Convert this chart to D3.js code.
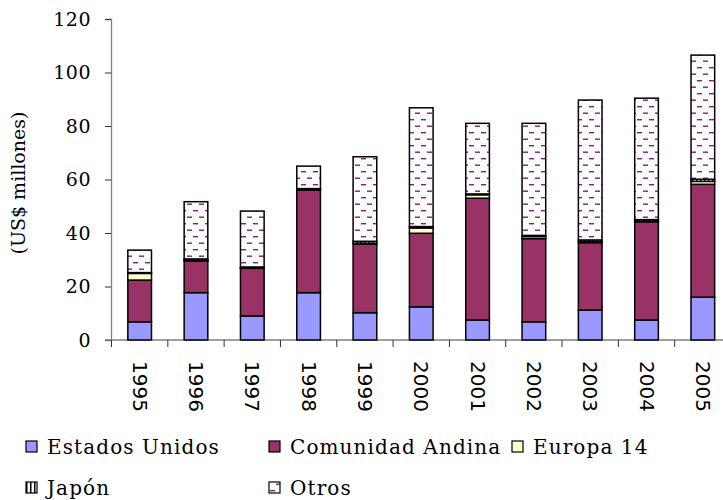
<!DOCTYPE html>
<html>
<head>
<meta charset="utf-8">
<script src="https://cdn.jsdelivr.net/npm/d3@7"></script>
<style>
  body { margin: 0; background: #fff; }
  svg { display: block; }
</style>
</head>
<body>
<div id="chart"></div>
<script>
(function () {

  // data (US$ millones)
  var years = ["1995", "1996", "1997", "1998", "1999", "2000", "2001", "2002", "2003", "2004", "2005"],
    seriesNames = ["Estados Unidos", "Comunidad Andina", "Europa 14", "Japón", "Otros"],
    estadosUnidos = [6.8, 17.7, 9.0, 17.7, 10.2, 12.4, 7.5, 6.8, 11.2, 7.5, 16.0],
    comunidadAndina = [15.6, 11.8, 17.8, 38.4, 25.7, 27.5, 45.5, 31.1, 25.2, 36.7, 42.2],
    europa14 = [2.5, 0.2, 0.2, 0.2, 0.3, 2.0, 1.3, 0.8, 0.3, 0.2, 1.1],
    japon = [0.3, 0.6, 0.3, 0.3, 0.7, 0.5, 0.3, 0.4, 0.7, 0.6, 0.8],
    otros = [8.4, 21.4, 20.9, 8.4, 31.6, 44.4, 26.4, 41.9, 52.3, 45.4, 46.4],
    yTicks = [0, 20, 40, 60, 80, 100, 120];

  var w = 723,
    h = 500,
    svg, x, y;

  var seriesValues = [estadosUnidos, comunidadAndina, europa14, japon, otros];
  var fills = ["#9999ff", "#993366", "#ffffcc", "url(#japonPat)", "url(#otrosPat)"];

  function makeChart() {
    createSvg();
    createPatterns();
    getScales();
    drawAxes();
    drawBars();
    drawLegend();
  }

  function createSvg() {
    svg = d3.select("#chart")
      .append("svg")
      .attr("width", w)
      .attr("height", h);
  }

  // hatch fills used by Japón and Otros
  function createPatterns() {
    var defs = svg.append("defs");

    var jp = defs.append("pattern")
      .attr("id", "japonPat")
      .attr("patternUnits", "userSpaceOnUse")
      .attr("width", 4).attr("height", 4);
    jp.append("rect").attr("width", 4).attr("height", 4).attr("fill", "#fff");
    jp.append("rect").attr("x", 0).attr("width", 1.5).attr("height", 4).attr("fill", "#000");

    var ot = defs.append("pattern")
      .attr("id", "otrosPat")
      .attr("patternUnits", "userSpaceOnUse")
      .attr("width", 12).attr("height", 13);
    ot.append("rect").attr("width", 12).attr("height", 13).attr("fill", "#fff");
    [[1, 2], [7, 8.5]].forEach(function (p) {
      ot.append("rect")
        .attr("x", p[0]).attr("y", p[1])
        .attr("width", 5).attr("height", 1.4)
        .attr("fill", "#80207a");
    });
  }

  function getScales() {
    x = d3.scaleBand()
      .domain(years)
      .range([111.5, 731])
      .paddingInner(0.58)
      .paddingOuter(0.29);

    y = d3.scaleLinear()
      .domain([0, 120])
      .range([340, 19]);
  }

  function drawAxes() {
    var yAxis = svg.append("g")
      .attr("transform", "translate(111,0)")
      .call(d3.axisLeft(y).tickValues(yTicks).tickSize(6).tickPadding(14));
    yAxis.select(".domain").attr("stroke", "#808080").attr("stroke-width", 1.3);
    yAxis.selectAll(".tick line").attr("stroke", "#333");
    yAxis.selectAll(".tick text")
      .attr("font-family", "'DejaVu Serif', serif")
      .attr("font-size", "19px")
      .attr("letter-spacing", "0.5px")
      .attr("fill", "#000");

    // category axis: line plus tick marks between the categories
    svg.append("line")
      .attr("x1", 105).attr("x2", w)
      .attr("y1", y(0)).attr("y2", y(0))
      .attr("stroke", "#808080").attr("stroke-width", 1.3);

    var step = x.step();
    svg.selectAll(".xtick")
      .data(years)
      .enter().append("line")
      .attr("class", "xtick")
      .attr("x1", function (d) { return x(d) + x.bandwidth() / 2 - step / 2; })
      .attr("x2", function (d) { return x(d) + x.bandwidth() / 2 - step / 2; })
      .attr("y1", y(0)).attr("y2", y(0) + 7)
      .attr("stroke", "#333");

    svg.selectAll(".xlabel")
      .data(years)
      .enter().append("text")
      .attr("class", "xlabel")
      .attr("transform", function (d) {
        return "translate(" + (x(d) + x.bandwidth() / 2) + "," + (y(0) + 21) + ") rotate(90)";
      })
      .attr("dy", "0.35em")
      .attr("text-anchor", "start")
      .attr("font-family", "'DejaVu Sans', sans-serif")
      .attr("font-size", "20px")
      .text(function (d) { return d; });

    svg.append("text")
      .attr("transform", "translate(25,183) rotate(-90)")
      .attr("text-anchor", "middle")
      .attr("font-family", "'DejaVu Serif', serif")
      .attr("font-size", "19px")
      .text("(US$ millones)");
  }

  function drawBars() {
    var rows = years.map(function (yr, i) {
      var row = { year: yr };
      seriesNames.forEach(function (s, k) { row[s] = seriesValues[k][i]; });
      return row;
    });
    var stack = d3.stack().keys(seriesNames)(rows);

    svg.selectAll(".series")
      .data(stack)
      .enter().append("g")
      .attr("class", "series")
      .attr("fill", function (d, k) { return fills[k]; })
      .selectAll("rect")
      .data(function (d) { return d; })
      .enter().append("rect")
      .attr("x", function (d) { return x(d.data.year); })
      .attr("width", x.bandwidth())
      .attr("y", function (d) { return y(d[1]); })
      .attr("height", function (d) { return y(d[0]) - y(d[1]); })
      .attr("stroke", "#000")
      .attr("stroke-width", 1.5);
  }

  function drawLegend() {
    var pos = [[26, 447], [269, 447], [512, 447], [26, 488], [269, 488]];
    var items = svg.selectAll(".legend")
      .data(seriesNames)
      .enter().append("g")
      .attr("class", "legend")
      .attr("transform", function (d, i) { return "translate(" + pos[i][0] + "," + pos[i][1] + ")"; });

    items.append("rect")
      .attr("x", 0).attr("y", -6)
      .attr("width", 11).attr("height", 11)
      .attr("fill", function (d, i) { return fills[i]; })
      .attr("stroke", "#000")
      .attr("stroke-width", 1.2);

    items.append("text")
      .attr("x", 21)
      .attr("dy", "0.35em")
      .attr("font-family", "'DejaVu Serif', serif")
      .attr("font-size", "20px")
      .attr("letter-spacing", "1.1px")
      .text(function (d) { return d; });
  }

  makeChart();
})();
</script>
</body>
</html>
